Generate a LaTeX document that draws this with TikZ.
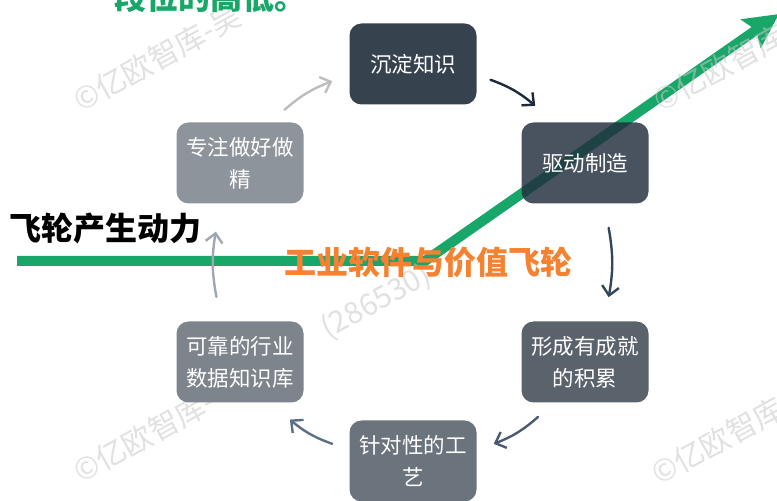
\documentclass[tikz,border=0pt]{standalone}
\usepackage{fontspec}
\usepackage{tikz}
\usetikzlibrary{positioning, calc, arrows.meta}
\newfontfamily\cjk{Noto Sans CJK SC}
\definecolor{flygreen}{RGB}{24,167,104}
\definecolor{flyorange}{RGB}{245,130,49}
\definecolor{boxbase}{RGB}{33,45,61}
\definecolor{box1}{RGB}{55,66,79}
\definecolor{box3}{RGB}{90,98,108}
\definecolor{box4}{RGB}{107,115,125}
\definecolor{box5}{RGB}{125,132,140}
\definecolor{box6}{RGB}{142,148,155}
\definecolor{arcA}{RGB}{189,189,189}
\definecolor{arcB}{RGB}{30,42,58}
\definecolor{arcC}{RGB}{52,70,92}
\definecolor{arcD}{RGB}{74,90,112}
\definecolor{arcE}{RGB}{93,111,135}
\definecolor{arcF}{RGB}{160,167,176}
\definecolor{wmgray}{RGB}{200,200,200}

\begin{document}
\begin{tikzpicture}[x=1pt, y=1pt, thick, >={Straight Barb[length=9pt, width=17pt]},
		main/.style = {rounded corners=12pt, minimum width=127pt, minimum height=81pt, inner sep=0pt, on grid, align=center, text=white, font=\cjk\fontsize{21.5}{32}\selectfont},
		link/.style = {->, line width=2.4pt, line cap=round},
		wmark/.style = {rotate=29, anchor=west, inner sep=0pt, text=wmgray, text opacity=0.55, font=\cjk\fontsize{30}{30}\selectfont},
		big/.style = {inner sep=0pt, font=\cjk\bfseries\fontsize{32}{32}\selectfont}]
	\useasboundingbox (0,0) rectangle (777,501);

	% green line
	\coordinate (g0) at (17,240);
	\coordinate (g1) at (425,240);
	\coordinate (g2) at (779,487);
	\draw[flygreen, line width=10pt, -{Stealth[length=34pt, width=34pt, inset=6pt]}] (g0) -- (g1) -- (g2);

	% watermarks
	\node[wmark] (w1) at (76,398) {©亿欧智库-吴};
	\node[wmark] (w2) at (656,398) {©亿欧智库};
	\node[wmark] (w3) at (76,27) {©亿欧智库-};
	\node[wmark, anchor=east] (w4) at (429,228) {(286530)};
	\node[wmark] (w5) at (654,25) {©亿欧智库};

	% cycle
	\node[main, fill=box1] (1) at (413,437) {沉淀知识};
	\node[main, fill=boxbase, fill opacity=0.82, text opacity=1] (2) [below right=99pt and 172pt of 1] {驱动制造};
	\node[main, fill=box3] (3) [below=199pt of 2] {形成有成就\\的积累};
	\node[main, fill=box4] (4) [below left=99pt and 172pt of 3] {针对性的工\\艺};
	\node[main, fill=box5] (5) [above left=99pt and 173pt of 4] {可靠的行业\\数据知识库};
	\node[main, fill=box6] (6) [above=199pt of 5] {专注做好做\\精};
	\coordinate (c) at ($(1)!0.5!(4)$);

	\draw[link, arcA] ($(c)!1!-20:(6)$) to[bend left=10] ($(c)!1!24:(1)$);
	\draw[link, arcB] ($(c)!1!-23:(1)$) to[bend left=10] ($(c)!1!22:(2)$);
	\draw[link, arcC] ($(c)!1!-20:(2)$) to[bend left=10] ($(c)!1!20:(3)$);
	\draw[link, arcD] ($(c)!1!-21:(3)$) to[bend left=10] ($(c)!1!24:(4)$);
	\draw[link, arcE] ($(c)!1!-24:(4)$) to[bend left=10] ($(c)!1!22:(5)$);
	\draw[link, arcF] ($(c)!1!-20:(5)$) to[bend left=10] ($(c)!1!21:(6)$);

	% labels
	\node[big, anchor=base west, text=flygreen] (top) at (114,491) {段位的高低。};
	\node[big, anchor=west] (push) at (9,273) {飞轮产生动力};
	\node[big, text=flyorange] (name) at (428,239) {工业软件与价值飞轮};
\end{tikzpicture}
\end{document}
